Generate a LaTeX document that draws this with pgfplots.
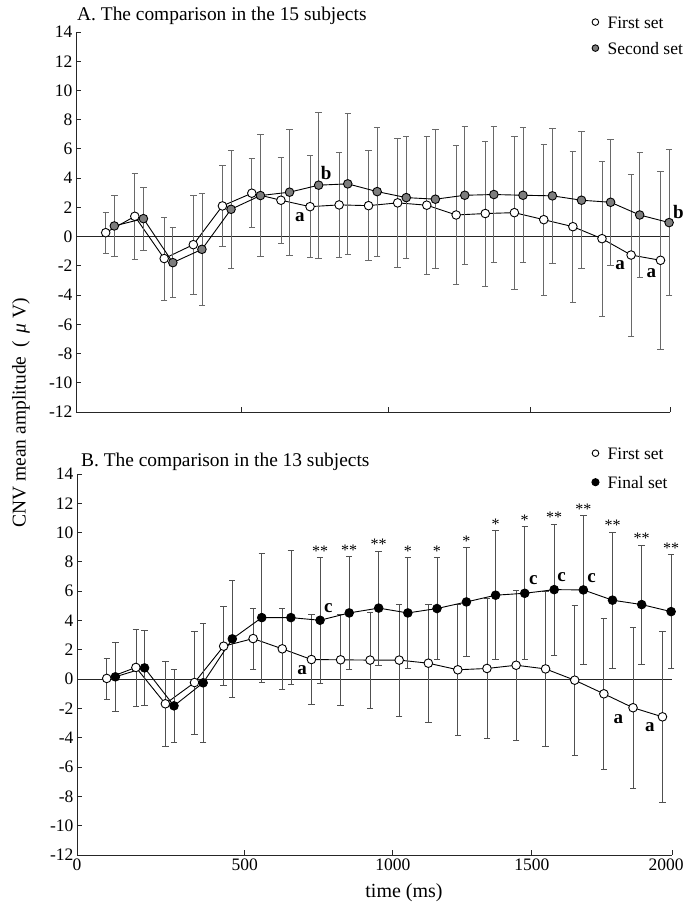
\documentclass[border=0pt]{standalone}
\usepackage{fontspec}
\setmainfont{Liberation Serif}
\usepackage{pgfplots}
\pgfplotsset{compat=1.18}
\usepackage{pgfplotstable}

\newcommand\fs[1]{\fontsize{#1bp}{#1bp}\selectfont}
\definecolor{agray}{RGB}{125,125,125}
\definecolor{ebA}{RGB}{105,105,105}
\definecolor{ebB}{RGB}{80,80,80}

\pgfplotstableread{
x y e
100 0.27 1.40
198 1.39 2.92
297 -1.50 2.84
395 -0.55 3.38
493 2.10 2.77
592 2.97 2.35
690 2.49 2.96
788 2.05 3.50
886 2.17 3.56
985 2.12 3.78
1083 2.31 4.40
1181 2.15 4.71
1280 1.48 4.78
1378 1.58 4.96
1476 1.64 5.22
1575 1.16 5.18
1673 0.68 5.17
1771 -0.14 5.30
1869 -1.26 5.54
1968 -1.62 6.07
}\Aw

\pgfplotstableread{
x y e
129 0.73 2.10
227 1.23 2.16
326 -1.78 2.40
424 -0.87 3.84
522 1.87 4.04
621 2.81 4.17
719 3.04 4.32
817 3.52 4.98
915 3.61 4.83
1014 3.08 4.42
1112 2.67 4.19
1210 2.56 4.75
1309 2.83 4.72
1407 2.88 4.63
1505 2.83 4.61
1604 2.79 4.64
1702 2.49 4.68
1800 2.35 4.30
1898 1.48 4.29
1997 0.96 4.99
}\Ag

\pgfplotstableread{
x y e
100 0.05 1.40
198 0.80 2.63
297 -1.68 2.89
395 -0.23 3.52
493 2.25 2.70
592 2.77 2.09
690 2.07 2.74
788 1.34 3.09
886 1.32 3.13
985 1.30 3.27
1083 1.30 3.83
1181 1.09 4.04
1280 0.64 4.49
1378 0.73 4.76
1476 0.95 5.14
1575 0.70 5.31
1673 -0.07 5.12
1771 -1.00 5.16
1869 -1.95 5.48
1968 -2.57 5.83
}\Bw

\pgfplotstableread{
x y e
129 0.16 2.35
227 0.77 2.53
326 -1.82 2.47
424 -0.25 4.07
522 2.75 3.97
621 4.20 4.39
719 4.20 4.56
817 4.02 4.28
915 4.52 3.87
1014 4.85 3.90
1112 4.52 3.80
1210 4.82 3.46
1309 5.27 3.72
1407 5.73 4.41
1505 5.86 4.54
1604 6.11 4.48
1702 6.09 5.08
1800 5.39 4.64
1898 5.09 4.06
1997 4.61 3.90
}\Bb

\pgfplotsset{
  panel/.style={
    scale only axis,
    xmin=0, xmax=2000, ymin=-12, ymax=14,
    axis x line*=bottom, axis y line*=left,
    axis line style={-, line width=0.9bp, black!85},
    tick align=inside, major tick length=5bp,
    tick style={line width=0.9bp, black!85},
    ytick={-12,-10,...,14},
    yticklabels={-12,-10,-8,-6,-4,-2,0,2,4,6,8,10,12,14},
    tick label style={font=\fs{17.5}},
    clip=false,
    legend style={draw=none, fill=none, inner sep=0pt, anchor=north west,
      font=\fs{17.5}, nodes={inner sep=1bp, text height=12bp, text depth=0bp},
      cells={anchor=west}},
    legend image code/.code={\path (-4bp,0bp) (11bp,0bp); \draw[##1] plot coordinates {(0bp,0bp)};},
  },
  ser/.style 2 args={forget plot, black, line width=0.9bp, mark=*, mark size=4.3bp,
    mark options={fill=#1, draw=black, line width=0.9bp},
    error bars/.cd, y dir=both, y explicit,
    error bar style={draw=#2, line width=0.8bp},
    error mark options={rotate=90, draw=#2, line width=0.8bp, mark size=3.2bp}},
}
\tikzset{
  lbl/.style={font=\fs{19}\bfseries, inner sep=0pt},
  star/.style={font=\fs{16}, anchor=south, inner sep=0pt, yshift=1bp},
}

\begin{document}
\begin{tikzpicture}
\useasboundingbox (0bp,0bp) rectangle (685bp,-907bp);

% ---------- Panel A ----------
\begin{axis}[panel, at={(76bp,-412bp)}, anchor=south west,
  width=594bp, height=380bp,
  xtick={558,1051,1530,2000}, xticklabels={{},{},{},{}},
  legend style={at={(axis description cs:0.867,1.045)}, row sep=12bp}]
\addlegendimage{only marks, mark=*, mark size=3.3bp, mark options={fill=white, draw=black, line width=0.9bp}}
\addlegendentry{First set}
\addlegendimage{only marks, mark=*, mark size=3.3bp, mark options={fill=agray, draw=black, line width=0.9bp}}
\addlegendentry{Second set}
\addplot[forget plot, black!85, line width=1.1bp] coordinates {(0,0) (2000,0)};
\addplot[ser={white}{ebA}] table[x=x, y=y, y error=e] {\Aw};
\addplot[ser={agray}{ebA}] table[x=x, y=y, y error=e] {\Ag};
\node[lbl] at (axis cs:754,1.33) {a};
\node[lbl] at (axis cs:842,4.36) {b};
\node[lbl] at (axis cs:1832,-1.94) {a};
\node[lbl] at (axis cs:1937,-2.47) {a};
\node[lbl] at (axis cs:2028,1.69) {b};
\end{axis}

% ---------- Panel B ----------
\begin{axis}[panel, at={(77bp,-855bp)}, anchor=south west,
  width=595bp, height=381bp,
  xtick={0,564,1062,1529,2000}, xticklabels={0,500,1000,1500,\hspace{-12bp}2000},
  legend style={at={(axis description cs:0.864,1.0735)}, row sep=15bp}]
\addlegendimage{only marks, mark=*, mark size=3.3bp, mark options={fill=white, draw=black, line width=0.9bp}}
\addlegendentry{First set}
\addlegendimage{only marks, mark=*, mark size=3.6bp, mark options={fill=black, draw=black, line width=0.9bp}}
\addlegendentry{Final set}
\addplot[forget plot, black!85, line width=1.1bp] coordinates {(0,0) (2000,0)};
\addplot[ser={white}{ebB}] table[x=x, y=y, y error=e] {\Bw};
\addplot[ser={black}{ebB}] table[x=x, y=y, y error=e] {\Bb};
\node[lbl] at (axis cs:757,0.61) {a};
\node[lbl] at (axis cs:845,4.83) {c};
\node[lbl] at (axis cs:1534,6.76) {c};
\node[lbl] at (axis cs:1629,6.96) {c};
\node[lbl] at (axis cs:1730,6.87) {c};
\node[lbl] at (axis cs:1820,-2.75) {a};
\node[lbl] at (axis cs:1926,-3.28) {a};
\node[star] at (axis cs:817,8.30) {**};
\node[star] at (axis cs:915,8.39) {**};
\node[star] at (axis cs:1014,8.75) {**};
\node[star] at (axis cs:1112,8.32) {*};
\node[star] at (axis cs:1210,8.28) {*};
\node[star] at (axis cs:1309,8.99) {*};
\node[star] at (axis cs:1407,10.14) {*};
\node[star] at (axis cs:1505,10.40) {*};
\node[star] at (axis cs:1604,10.59) {**};
\node[star] at (axis cs:1702,11.17) {**};
\node[star] at (axis cs:1800,10.03) {**};
\node[star] at (axis cs:1898,9.15) {**};
\node[star] at (axis cs:1997,8.51) {**};
\end{axis}

% ---------- titles and labels ----------
\node[anchor=base west, font=\fs{19.4}, inner sep=0pt] at (77bp,-20bp) {A. The comparison in the 15 subjects};
\node[anchor=base west, font=\fs{19.4}, inner sep=0pt] at (81bp,-466bp) {B. The comparison in the 13 subjects};
\node[rotate=90, font=\fs{19.5}, inner sep=0pt] at (21bp,-413bp)
  {CNV mean amplitude\hspace{0.45em}(\hspace{0.4em}\textit{μ}\hspace{0.25em}V)};
\node[anchor=base, font=\fs{20}, inner sep=0pt] at (404bp,-897bp) {time (ms)};
\end{tikzpicture}
\end{document}
